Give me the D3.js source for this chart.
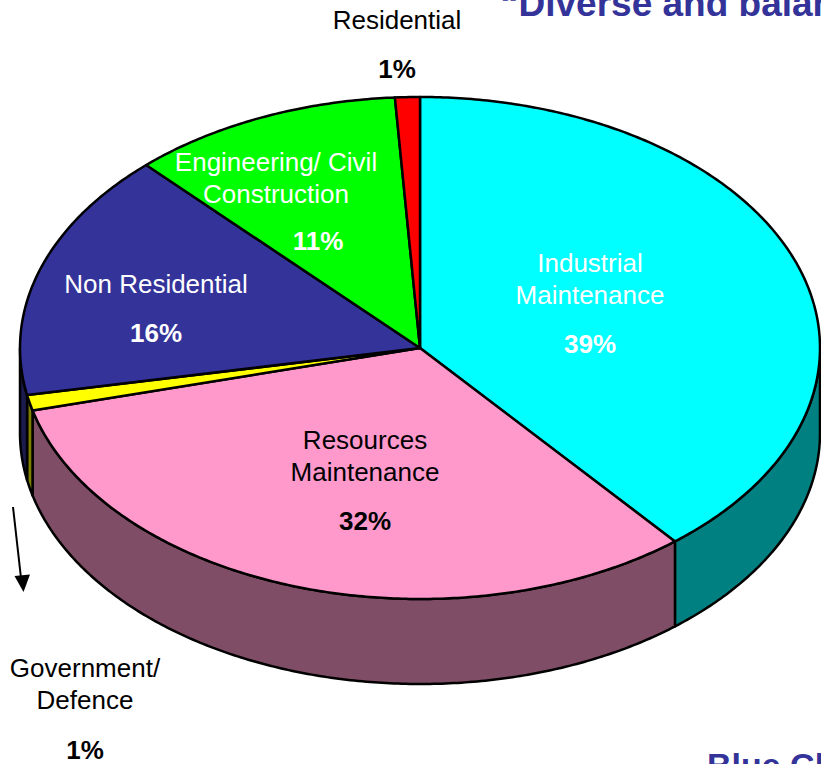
<!DOCTYPE html>
<html>
<head>
<meta charset="utf-8">
<script src="https://cdn.jsdelivr.net/npm/d3@7/dist/d3.min.js"></script>
<style>
  html, body { margin: 0; padding: 0; background: #fff; overflow: hidden; }
  svg { display: block; font-family: "Liberation Sans", Arial, sans-serif; }
</style>
</head>
<body>
<svg id="chart" width="821" height="764"></svg>
<script>
// Market sectors and their share of revenue (%)
const categories = [
  "Industrial Maintenance",
  "Resources Maintenance",
  "Government/ Defence",
  "Non Residential",
  "Engineering/ Civil Construction",
  "Residential"
];
const shares = [39, 32, 1, 16, 11, 1];
const labelLines = [
  ["Industrial", "Maintenance"],
  ["Resources", "Maintenance"],
  ["Government/", "Defence"],
  ["Non Residential"],
  ["Engineering/ Civil", "Construction"],
  ["Residential"]
];
const titleText = "\u201CDiverse and balanced portfolio\u201D";
const footerText = "Blue Chip";

// Styling
const topColors  = ["#00FFFF", "#FF99CC", "#FFFF00", "#333399", "#00FF00", "#FF0000"];
const sideColors = ["#008080", "#804D66", "#808000", "#1A1A4D", "#008000", "#800000"];
const labelColors = ["#fff", "#000", "#000", "#fff", "#fff", "#000"];
// label anchor: [x of name, y of first baseline, x of percent, y of percent baseline]
const labelPos = [
  [590, 272, 590, 353],
  [365, 449, 365, 530],
  [85, 677, 85, 759],
  [156, 293, 156, 342],
  [276, 171, 318, 250],
  [397, 29, 397, 78]
];

const cx = 420, cy = 348, rx = 400, ry = 251, depth = 85;
const edgeWidth = 2.5;

const svg = d3.select("#chart");

const arcs = d3.pie().sort(null).value(d => d).startAngle(0).endAngle(2 * Math.PI)(shares);

// Projection of the tilted disc: angle measured clockwise from 12 o'clock
const px = d3.scaleLinear().domain([-1, 1]).range([cx - rx, cx + rx]);
const py = d3.scaleLinear().domain([-1, 1]).range([cy - ry, cy + ry]);
const pt = (a, dy = 0) => [px(Math.sin(a)), py(-Math.cos(a)) + dy];

function arcPoints(a0, a1, dy) {
  const n = Math.max(2, Math.ceil(Math.abs(a1 - a0) / 0.01));
  return d3.range(n + 1).map(i => pt(a0 + (a1 - a0) * i / n, dy));
}
const line = d3.line();

// Side walls: only the front half (90°..270°) faces the viewer
const frontLo = Math.PI / 2, frontHi = 3 * Math.PI / 2;
const sides = svg.append("g");
arcs.forEach((d, i) => {
  const a0 = Math.max(d.startAngle, frontLo);
  const a1 = Math.min(d.endAngle, frontHi);
  if (a1 <= a0) return;
  const pts = arcPoints(a0, a1, 0).concat(arcPoints(a1, a0, depth));
  sides.append("path")
    .attr("d", line(pts) + "Z")
    .attr("fill", sideColors[i])
    .attr("stroke", "#000")
    .attr("stroke-width", edgeWidth)
    .attr("stroke-linejoin", "round");
});

// Top faces
const tops = svg.append("g");
arcs.forEach((d, i) => {
  const pts = [[cx, cy]].concat(arcPoints(d.startAngle, d.endAngle, 0));
  tops.append("path")
    .attr("d", line(pts) + "Z")
    .attr("fill", topColors[i])
    .attr("stroke", "#000")
    .attr("stroke-width", edgeWidth)
    .attr("stroke-linejoin", "round");
});

// Labels
const labels = svg.append("g").attr("text-anchor", "middle").attr("font-size", 26);
arcs.forEach((d, i) => {
  const [nx, ny, vx, vy] = labelPos[i];
  labelLines[i].forEach((t, k) => {
    labels.append("text")
      .attr("x", nx).attr("y", ny + k * 32)
      .attr("fill", labelColors[i])
      .text(t);
  });
  labels.append("text")
    .attr("x", vx).attr("y", vy)
    .attr("fill", labelColors[i])
    .attr("font-weight", "bold")
    .text(shares[i] + "%");
});

// Leader arrow for the small Government/ Defence slice
svg.append("line")
  .attr("x1", 13).attr("y1", 507)
  .attr("x2", 21).attr("y2", 578)
  .attr("stroke", "#000").attr("stroke-width", 2);
svg.append("path")
  .attr("d", "M14.5,576 L30,574.5 L23.5,592 Z")
  .attr("fill", "#000");

// Slide title and footer (cropped by the frame)
svg.append("text")
  .attr("x", 500).attr("y", 16)
  .attr("font-size", 37).attr("font-weight", "bold")
  .attr("fill", "#333399")
  .text(titleText);
svg.append("text")
  .attr("x", 707).attr("y", 777)
  .attr("font-size", 34).attr("font-weight", "bold")
  .attr("fill", "#333399")
  .text(footerText);
</script>
</body>
</html>
